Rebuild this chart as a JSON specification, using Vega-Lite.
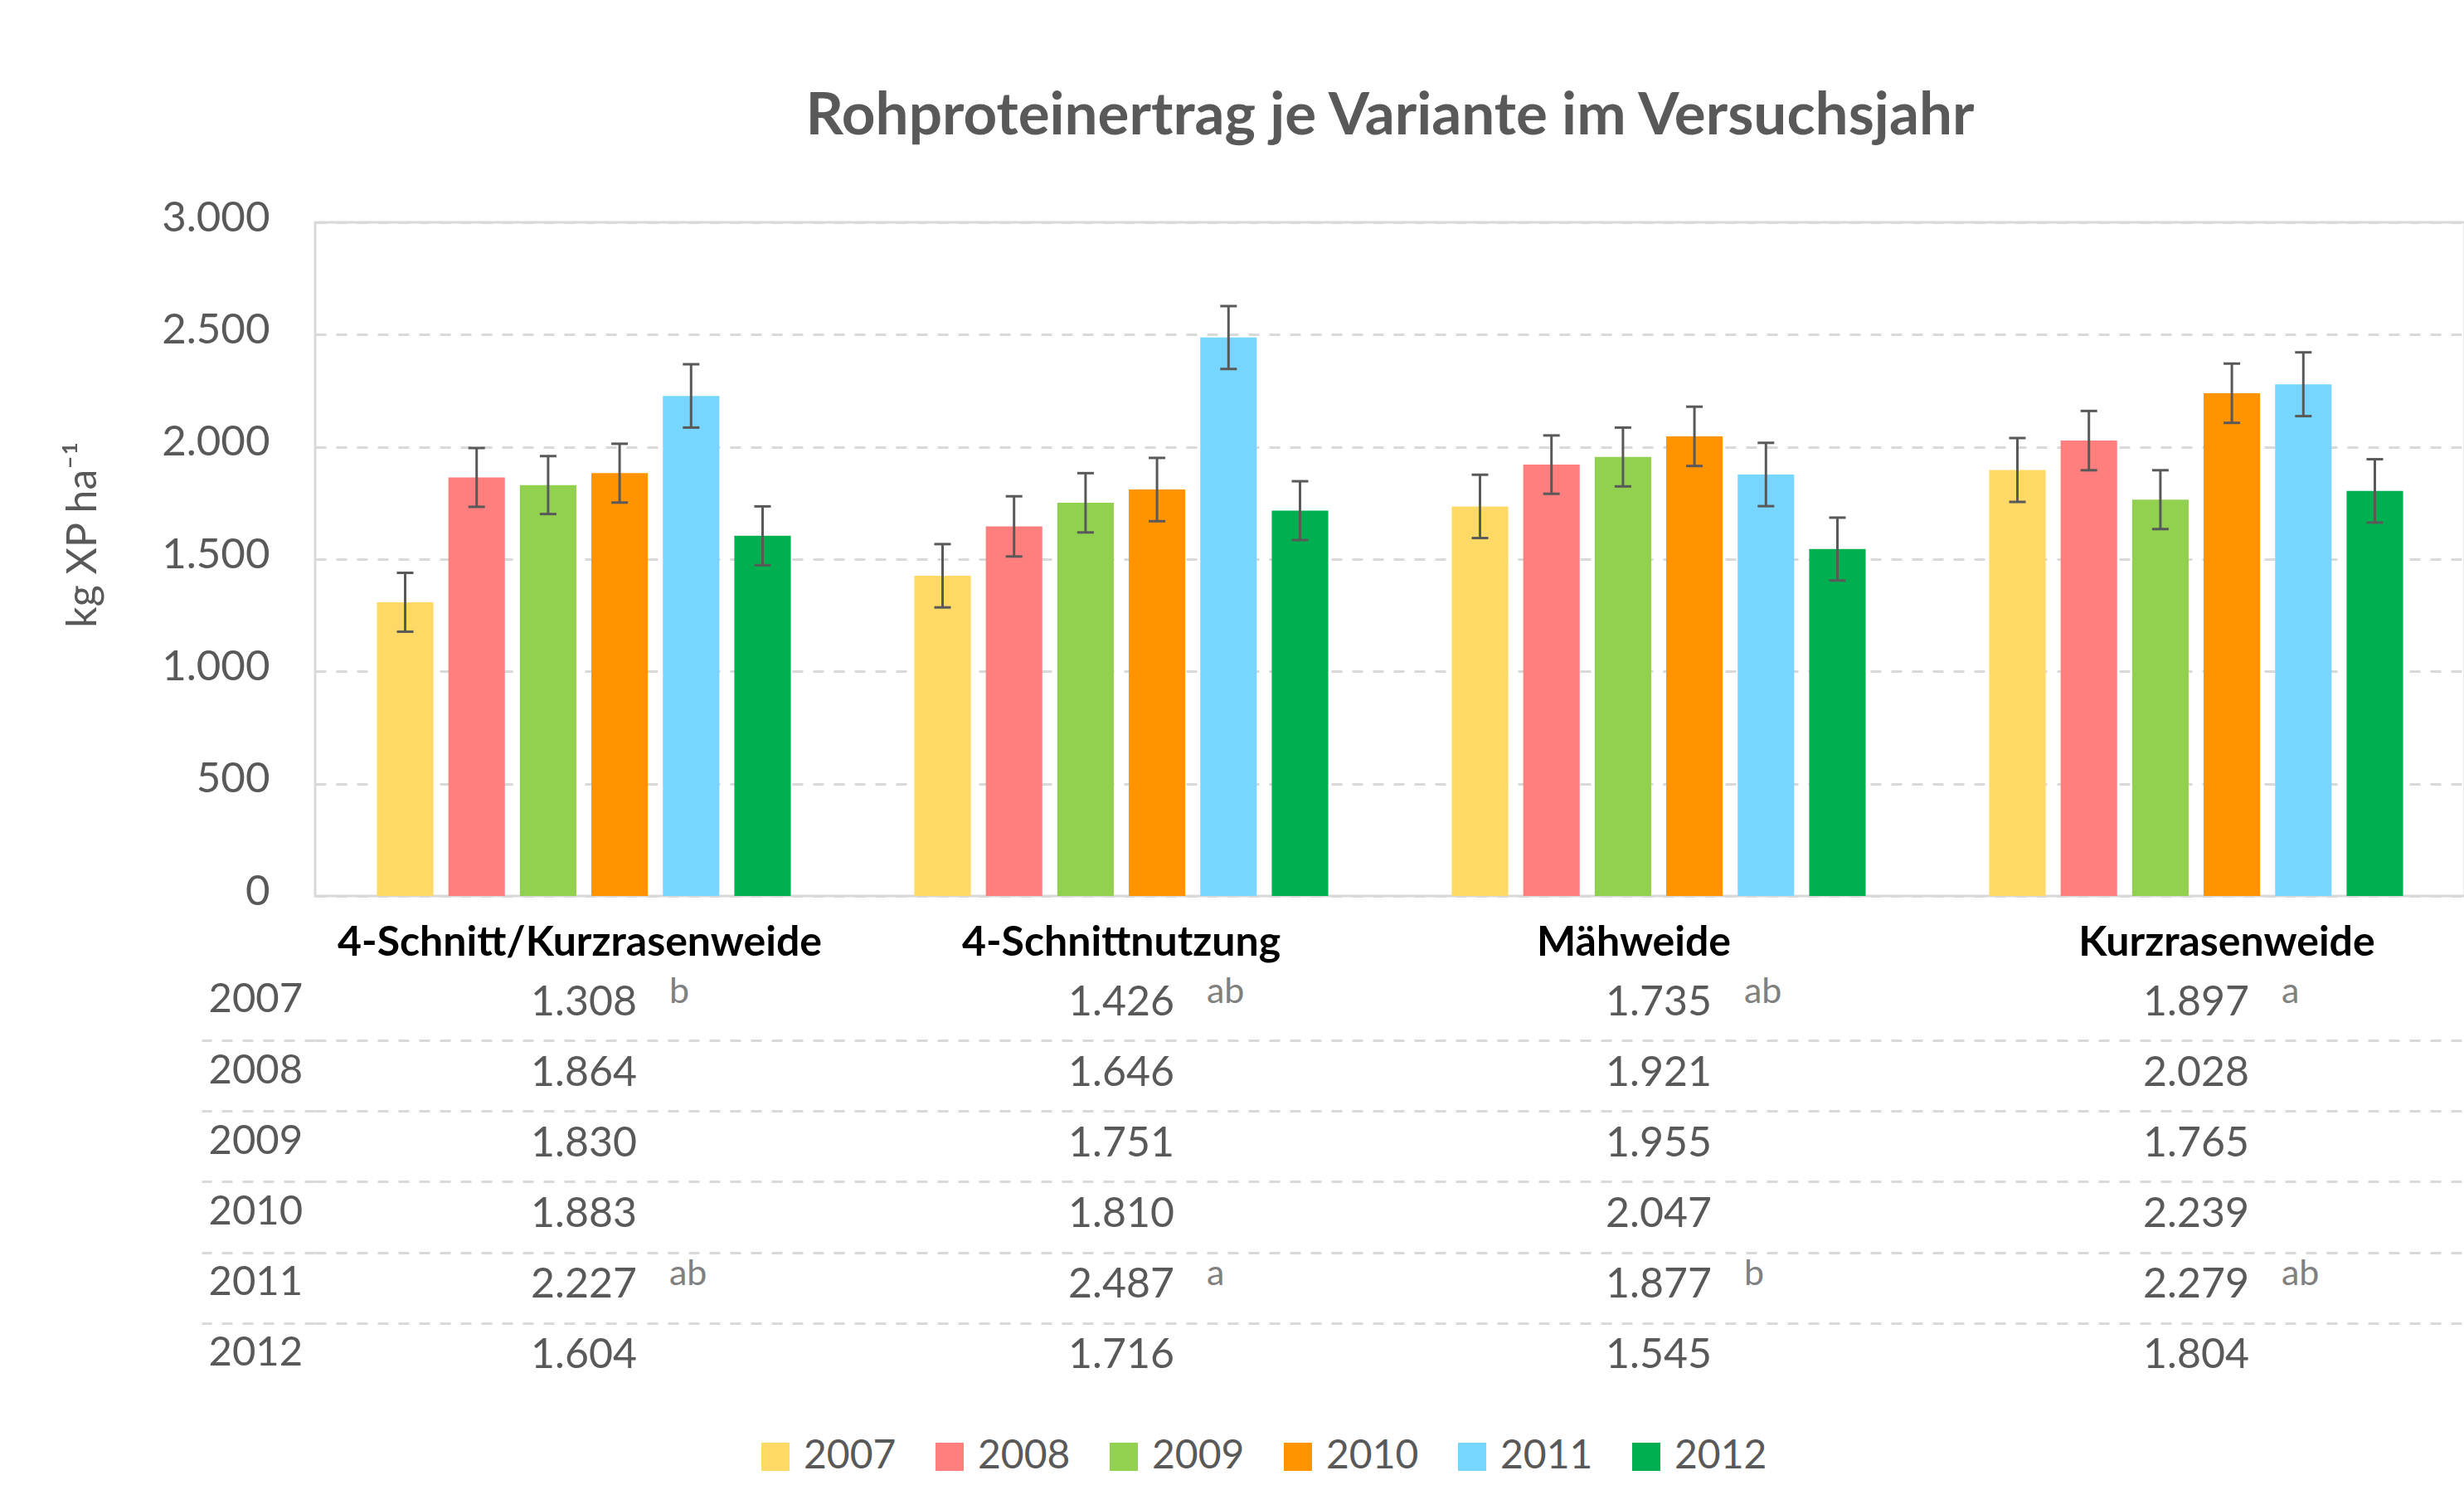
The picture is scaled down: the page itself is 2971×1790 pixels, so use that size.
{
  "$schema": "https://vega.github.io/schema/vega-lite/v6.json",
  "background": "white",
  "padding": {"left": 74, "top": 103, "right": 0, "bottom": 0},
  "config": {
    "font": "Lato",
    "locale": {"number": {"decimal": ",", "thousands": ".", "grouping": [3], "currency": ["", " €"]}},
    "view": {"stroke": null}
  },
  "data": {"values": [
    {"variant": "4-Schnitt/Kurzrasenweide", "year": "2007", "value": 1308, "lo": 1177, "hi": 1439, "letter": "b"},
    {"variant": "4-Schnitt/Kurzrasenweide", "year": "2008", "value": 1864, "lo": 1733, "hi": 1995, "letter": ""},
    {"variant": "4-Schnitt/Kurzrasenweide", "year": "2009", "value": 1830, "lo": 1701, "hi": 1959, "letter": ""},
    {"variant": "4-Schnitt/Kurzrasenweide", "year": "2010", "value": 1883, "lo": 1752, "hi": 2014, "letter": ""},
    {"variant": "4-Schnitt/Kurzrasenweide", "year": "2011", "value": 2227, "lo": 2086, "hi": 2368, "letter": "ab"},
    {"variant": "4-Schnitt/Kurzrasenweide", "year": "2012", "value": 1604, "lo": 1473, "hi": 1735, "letter": ""},
    {"variant": "4-Schnittnutzung", "year": "2007", "value": 1426, "lo": 1285, "hi": 1567, "letter": "ab"},
    {"variant": "4-Schnittnutzung", "year": "2008", "value": 1646, "lo": 1512, "hi": 1780, "letter": ""},
    {"variant": "4-Schnittnutzung", "year": "2009", "value": 1751, "lo": 1619, "hi": 1883, "letter": ""},
    {"variant": "4-Schnittnutzung", "year": "2010", "value": 1810, "lo": 1669, "hi": 1951, "letter": ""},
    {"variant": "4-Schnittnutzung", "year": "2011", "value": 2487, "lo": 2347, "hi": 2627, "letter": "a"},
    {"variant": "4-Schnittnutzung", "year": "2012", "value": 1716, "lo": 1585, "hi": 1847, "letter": ""},
    {"variant": "Mähweide", "year": "2007", "value": 1735, "lo": 1594, "hi": 1876, "letter": "ab"},
    {"variant": "Mähweide", "year": "2008", "value": 1921, "lo": 1791, "hi": 2051, "letter": ""},
    {"variant": "Mähweide", "year": "2009", "value": 1955, "lo": 1824, "hi": 2086, "letter": ""},
    {"variant": "Mähweide", "year": "2010", "value": 2047, "lo": 1915, "hi": 2179, "letter": ""},
    {"variant": "Mähweide", "year": "2011", "value": 1877, "lo": 1736, "hi": 2018, "letter": "b"},
    {"variant": "Mähweide", "year": "2012", "value": 1545, "lo": 1405, "hi": 1685, "letter": ""},
    {"variant": "Kurzrasenweide", "year": "2007", "value": 1897, "lo": 1755, "hi": 2039, "letter": "a"},
    {"variant": "Kurzrasenweide", "year": "2008", "value": 2028, "lo": 1896, "hi": 2160, "letter": ""},
    {"variant": "Kurzrasenweide", "year": "2009", "value": 1765, "lo": 1634, "hi": 1896, "letter": ""},
    {"variant": "Kurzrasenweide", "year": "2010", "value": 2239, "lo": 2107, "hi": 2371, "letter": ""},
    {"variant": "Kurzrasenweide", "year": "2011", "value": 2279, "lo": 2137, "hi": 2421, "letter": "ab"},
    {"variant": "Kurzrasenweide", "year": "2012", "value": 1804, "lo": 1663, "hi": 1945, "letter": ""}
  ]},
  "spacing": 6,
  "vconcat": [
    {
      "width": 2592,
      "height": 812,
      "title": {"text": "Rohproteinertrag je Variante im Versuchsjahr", "fontSize": 71, "fontWeight": "bold", "color": "#595959", "offset": 60, "anchor": "middle"},
      "view": {"stroke": "#D9D9D9", "strokeWidth": 3},
      "encoding": {
        "x": {"field": "variant", "type": "nominal", "sort": ["4-Schnitt/Kurzrasenweide", "4-Schnittnutzung", "Mähweide", "Kurzrasenweide"],
              "scale": {"paddingInner": 0, "paddingOuter": 0},
              "axis": {"title": null, "labelAngle": 0, "labelFontSize": 50, "labelFontWeight": "bold", "labelColor": "#000000", "labelPadding": 31, "labelLimit": 0, "ticks": false, "domain": false,
                       "labelOffset": {"condition": [
                         {"test": "datum.value == 'Mähweide'", "value": -30},
                         {"test": "datum.value == 'Kurzrasenweide'", "value": 37},
                         {"test": "datum.value == '4-Schnitt/Kurzrasenweide'", "value": -5}
                       ], "value": 0}}},
        "xOffset": {"field": "year", "type": "nominal", "scale": {"paddingInner": 0.21, "paddingOuter": 0.864}}
      },
      "layer": [
        {
          "mark": {"type": "bar"},
          "encoding": {
            "y": {"field": "value", "type": "quantitative", "scale": {"domain": [0, 3000], "nice": false},
                  "axis": {"title": "kg XP ha⁻¹", "titleFontSize": 50, "titleFontWeight": "normal", "titleColor": "#595959", "titlePadding": 69, "titleY": 376,
                           "values": [0, 500, 1000, 1500, 2000, 2500, 3000], "format": ",d",
                           "labelFontSize": 51, "labelColor": "#595959", "labelPadding": 55, "labelOffset": -5, "ticks": false, "domain": false,
                           "grid": true, "gridColor": "#D9D9D9", "gridDash": [13, 12], "gridWidth": 3}},
            "color": {"field": "year", "type": "nominal",
                      "scale": {"domain": ["2007", "2008", "2009", "2010", "2011", "2012"], "range": ["#FFD966", "#FF7F7F", "#92D050", "#FF9300", "#76D6FF", "#00B050"]},
                      "legend": {"orient": "none", "legendX": 531, "legendY": 1464, "direction": "horizontal", "columns": 6, "title": null,
                                 "symbolType": "square", "symbolSize": 1156, "symbolStrokeWidth": 0, "symbolOpacity": 1,
                                 "labelFontSize": 48, "labelColor": "#595959", "labelOffset": 10, "columnPadding": 40, "padding": 0}}
          }
        },
        {
          "mark": {"type": "rule", "color": "#595959", "strokeWidth": 3},
          "encoding": {"y": {"field": "lo", "type": "quantitative"}, "y2": {"field": "hi"}}
        },
        {
          "mark": {"type": "tick", "color": "#595959", "thickness": 3, "size": 20, "opacity": 1},
          "encoding": {"y": {"field": "lo", "type": "quantitative"}}
        },
        {
          "mark": {"type": "tick", "color": "#595959", "thickness": 3, "size": 20, "opacity": 1},
          "encoding": {"y": {"field": "hi", "type": "quantitative"}}
        }
      ]
    },
    {
      "width": 2592,
      "height": 511,
      "view": {"stroke": null},
      "encoding": {
        "x": {"field": "variant", "type": "nominal", "sort": ["4-Schnitt/Kurzrasenweide", "4-Schnittnutzung", "Mähweide", "Kurzrasenweide"],
              "scale": {"paddingInner": 0, "paddingOuter": 0}, "axis": null},
        "y": {"field": "year", "type": "nominal", "scale": {"paddingInner": 0, "paddingOuter": 0},
              "axis": {"title": null, "tickOffset": -42.6, "ticks": true, "tickSize": 137, "tickColor": "#D9D9D9", "tickWidth": 3, "tickDash": [13, 12],
                       "tickOpacity": {"condition": {"test": "datum.value == '2007'", "value": 0}, "value": 1},
                       "grid": true, "gridColor": "#D9D9D9", "gridWidth": 3, "gridDash": [13, 12],
                       "gridOpacity": {"condition": {"test": "datum.value == '2007'", "value": 0}, "value": 1},
                       "domain": false, "labelAlign": "left", "labelBaseline": "middle", "labelPadding": -8, "labelOffset": 36,
                       "labelFontSize": 49, "labelColor": "#595959"}}
      },
      "layer": [
        {
          "mark": {"type": "text", "fontSize": 50, "color": "#595959", "baseline": "alphabetic", "dy": 12},
          "encoding": {"text": {"field": "value", "type": "quantitative", "format": ",d"}}
        },
        {
          "mark": {"type": "text", "fontSize": 43, "color": "#808080", "align": "left", "baseline": "alphabetic", "dx": 103, "dy": -3},
          "encoding": {"text": {"field": "letter", "type": "nominal"}}
        }
      ]
    }
  ]
}
